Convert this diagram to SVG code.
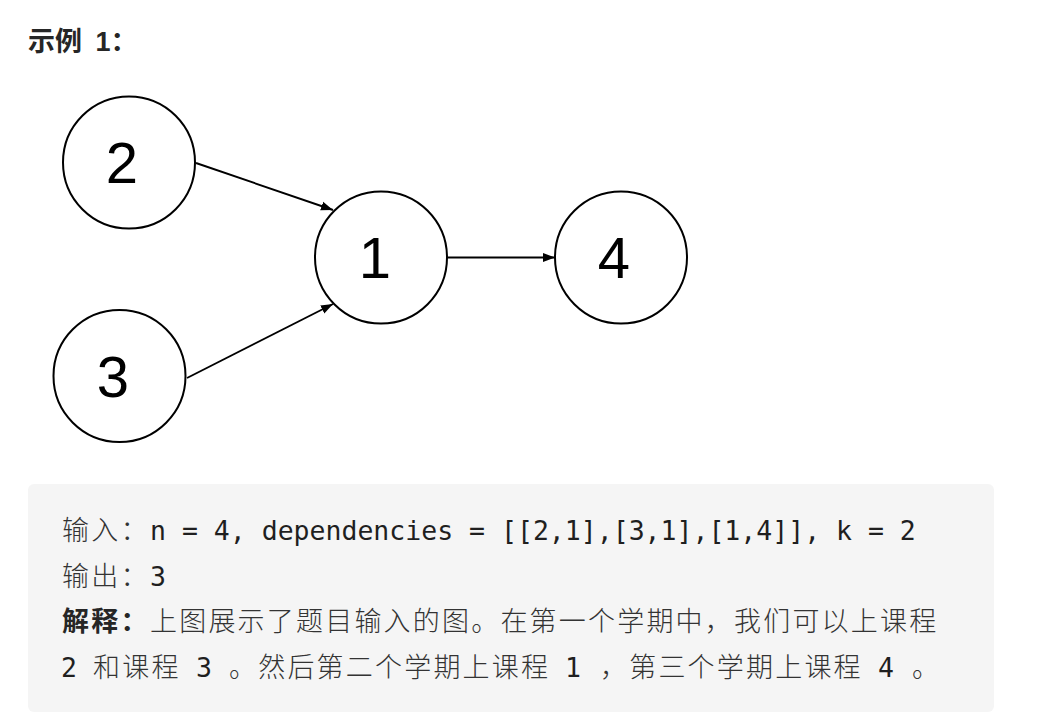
<svg xmlns="http://www.w3.org/2000/svg" width="1040" height="723" viewBox="0 0 1040 723">
<defs>
<marker id="arrow" markerUnits="userSpaceOnUse" markerWidth="13" markerHeight="10" refX="12" refY="5" orient="auto">
<path d="M0,0.5 L12,5 L0,9.5 z" fill="#000"/>
</marker>
<style>
.node circle{fill:#fff;stroke:#000;stroke-width:2}
.node text{font-family:"Liberation Sans",Arial,sans-serif;font-size:58px;fill:#000;text-anchor:middle}
.edge{stroke:#000;stroke-width:1.9;fill:none;marker-end:url(#arrow)}
.title{font-family:"Liberation Sans","Noto Sans CJK SC",sans-serif;font-size:27px;font-weight:bold;fill:#262626}
.cj{font-family:"Noto Sans CJK SC",sans-serif;font-size:27px;letter-spacing:2.2px;font-weight:300;fill:#333}
.cjb{font-family:"Noto Sans CJK SC",sans-serif;font-size:27px;letter-spacing:2.2px;font-weight:bold;fill:#262626}
.mo{font-family:"DejaVu Sans Mono","Liberation Mono",monospace;font-size:26.5px;fill:#1f1f1f}
</style>
</defs>
<rect width="1040" height="723" fill="#fff"/>
<text class="title" x="28" y="51">示例<tspan x="88"> 1</tspan><tspan font-family="Noto Sans CJK SC, sans-serif">：</tspan></text>

<g id="connectors">
<line class="edge" x1="196" y1="163" x2="333" y2="210"/>
<line class="edge" x1="187" y1="378" x2="333" y2="304"/>
<line class="edge" x1="447" y1="257.5" x2="555" y2="257.5"/>
</g>

<g id="node-2" class="node"><circle cx="129" cy="162.5" r="66"/><text x="122" y="183">2</text></g>
<g id="node-1" class="node"><circle cx="381" cy="257.5" r="66"/><text x="375" y="278">1</text></g>
<g id="node-4" class="node"><circle cx="621" cy="257.5" r="66"/><text x="614" y="278">4</text></g>
<g id="node-3" class="node"><circle cx="119.5" cy="376" r="66"/><text x="113" y="397">3</text></g>

<g id="example-box">
<rect x="28" y="484" width="966" height="228" rx="6" fill="#f5f5f5"/>
<text class="cj" x="62" y="540">输入：</text>
<text class="mo" x="150" y="540" xml:space="preserve">n = 4, dependencies = [[2,1],[3,1],[1,4]], k = 2</text>
<text class="cj" x="62" y="586">输出：</text>
<text class="mo" x="150" y="586">3</text>
<text class="cjb" x="62" y="631">解释：</text>
<text class="cj" x="150" y="631">上图展示了题目输入的图。在第一个学期中，我们可以上课程</text>
<text class="mo" x="61" y="677">2</text>
<text class="cj" x="93" y="677">和课程</text>
<text class="mo" x="196" y="677">3</text>
<text class="cj" x="229" y="677">。然后第二个学期上课程</text>
<text class="mo" x="565" y="677">1</text>
<text class="cj" x="600" y="677">，第三个学期上课程</text>
<text class="mo" x="878" y="677">4</text>
<text class="cj" x="912" y="677">。</text>
</g>
</svg>
